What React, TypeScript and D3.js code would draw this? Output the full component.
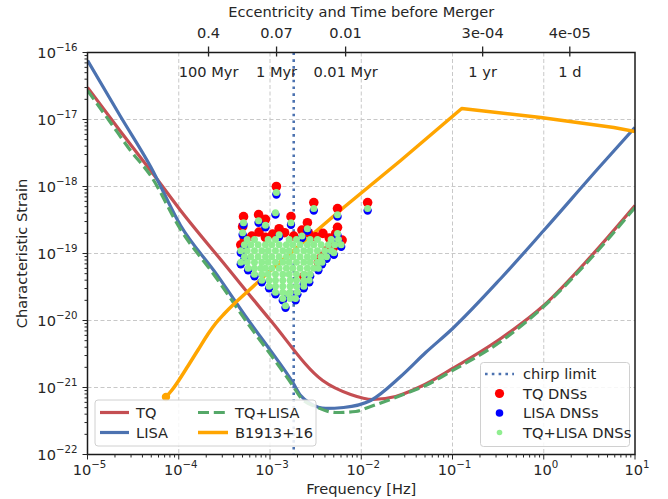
import React from "react";
import * as d3 from "d3";

// axes
const xMajor = [1e-5, 1e-4, 1e-3, 1e-2, 1e-1, 1, 10];
const xMajorExp = ["\u22125", "\u22124", "\u22123", "\u22122", "\u22121", "0", "1"];
const yMajor = [1e-22, 1e-21, 1e-20, 1e-19, 1e-18, 1e-17, 1e-16];
const yMajorExp = ["\u221222", "\u221221", "\u221220", "\u221219", "\u221218", "\u221217", "\u221216"];

// secondary (top) axis: eccentricity and time before merger
const topTickFreq = [2.12e-4, 1.18e-3, 6.74e-3, 0.214, 1.93];
const topTickEcc = ["0.4", "0.07", "0.01", "3e-04", "4e-05"];
const topTickTime = ["100 Myr", "1 Myr", "0.01 Myr", "1 yr", "1 d"];

const chirpLimit = 1.82e-3;

// sensitivity curves, [log10 f, log10 h_c]
const tqCurve = [
  [-5.0, -16.52], [-4.638, -17.179], [-4.309, -17.761], [-3.98, -18.358], [-3.487, -19.179],
  [-2.993, -20.0], [-2.423, -20.896], [-2.116, -21.104], [-1.875, -21.179], [-1.623, -21.134],
  [-1.349, -20.985], [-0.998, -20.716], [-0.471, -20.269], [0.0, -19.776], [0.515, -19.045], [1.0, -18.284],
];
const lisaCurve = [
  [-5.0, -16.119], [-4.638, -16.955], [-4.309, -17.701], [-3.98, -18.582], [-3.596, -19.29],
  [-3.235, -20.0], [-2.993, -20.45], [-2.752, -20.92], [-2.664, -21.12], [-2.555, -21.24],
  [-2.39, -21.313], [-2.193, -21.299], [-1.897, -21.194], [-1.568, -20.836], [-1.294, -20.478],
  [-0.998, -20.119], [-0.471, -19.373], [0.0, -18.657], [0.625, -17.687], [1.0, -17.119],
];
const tqLisaCurve = [
  [-5.0, -16.567], [-4.748, -17.045], [-4.529, -17.463], [-4.309, -17.836], [-3.98, -18.642],
  [-3.596, -19.35], [-3.235, -20.06], [-2.993, -20.51], [-2.752, -20.97], [-2.664, -21.15], [-2.478, -21.3],
  [-2.281, -21.373], [-2.061, -21.358], [-1.897, -21.284], [-1.568, -21.119], [-1.294, -20.97],
  [-0.998, -20.746], [-0.471, -20.313], [0.0, -19.791], [0.515, -19.075], [1.0, -18.313],
];
// B1913+16 track: curved early part, then straight segments up to the kink
const b1913Early = [
  [-4.14, -21.142], [-4.074, -21.037], [-3.997, -20.888], [-3.899, -20.679], [-3.789, -20.44],
  [-3.679, -20.201], [-3.592, -20.037], [-3.504, -19.903], [-3.395, -19.754], [-3.263, -19.59],
  [-3.0, -19.261], [-2.671, -18.873],
];
const b1913Late = [
  [-2.671, -18.873], [-2.193, -18.313], [-1.568, -17.612], [-0.899, -16.836], [-0.033, -16.97],
  [0.768, -17.119], [1.0, -17.179],
];

// DNS population, [log10 h, log10 f list] rows for the dense TQ+LISA cloud
const tqLisaDnsRows: [number, number[]][] = [
  [-18.79, [-3.25, -3.17, -3.02, -2.94, -2.79, -2.71, -2.56, -2.48, -2.33, -2.25]],
  [-18.87, [-3.28, -3.21, -3.13, -3.05, -2.98, -2.9, -2.82, -2.75, -2.67, -2.59, -2.52, -2.44, -2.36, -2.29, -2.22]],
  [-18.96, [-3.32, -3.25, -3.17, -3.09, -3.02, -2.94, -2.86, -2.79, -2.71, -2.63, -2.56, -2.48, -2.4, -2.33]],
  [-19.05, [-3.28, -3.21, -3.13, -3.05, -2.98, -2.9, -2.82, -2.75, -2.67, -2.59, -2.52, -2.44, -2.38]],
  [-19.13, [-3.32, -3.25, -3.17, -3.09, -3.02, -2.94, -2.86, -2.79, -2.71, -2.63, -2.56, -2.48, -2.43]],
  [-19.22, [-3.24, -3.17, -3.1, -3.05, -2.98, -2.9, -2.82, -2.75, -2.67, -2.59, -2.52, -2.47]],
  [-19.31, [-3.17, -3.09, -3.02, -2.94, -2.86, -2.79, -2.71, -2.63, -2.56]],
  [-19.4, [-3.09, -3.01, -2.94, -2.86, -2.78, -2.71, -2.63, -2.57]],
  [-19.49, [-3.01, -2.94, -2.86, -2.78, -2.71, -2.63]],
  [-19.58, [-2.94, -2.86, -2.78, -2.7]],
  [-19.67, [-2.86, -2.78, -2.72]],
];
// scattered DNSs, [log10 f, log10 h]
const tqLisaDnsOut = [
  [-2.93, -18.09], [-2.94, -18.39], [-3.29, -18.54], [-3.3, -18.69], [-3.125, -18.51], [-3.05, -18.58],
  [-2.77, -18.54], [-2.52, -18.33], [-2.26, -18.42], [-2.26, -18.7], [-2.3, -18.99], [-2.59, -18.63],
  [-1.93, -18.33], [-2.83, -19.78], [-2.8, -19.6], [-2.63, -19.43], [-2.9, -18.72], [-2.65, -18.74],
];
const tqDns = [
  [-2.93, -18.0], [-3.29, -18.45], [-3.3, -18.6], [-3.125, -18.42], [-3.05, -18.49],
  [-2.77, -18.45], [-2.52, -18.24], [-2.26, -18.33], [-2.26, -18.61], [-2.3, -18.9], [-2.59, -18.54],
  [-1.93, -18.24], [-2.63, -19.34], [-2.9, -18.63], [-2.65, -18.65],
  [-3.2, -18.74], [-3.12, -18.68], [-3.05, -18.76], [-2.97, -18.71], [-2.84, -18.69],
  [-2.74, -18.74], [-2.58, -18.69], [-2.5, -18.75], [-2.42, -18.7], [-2.35, -18.77], [-2.28, -18.7],
  [-3.32, -18.87], [-3.28, -18.78], [-2.21, -18.8], [-2.38, -18.96], [-2.43, -19.04], [-2.47, -19.13],
];
const lisaDns = [
  [-2.93, -18.12], [-2.94, -18.42], [-3.29, -18.57], [-3.3, -18.72], [-3.125, -18.54], [-3.05, -18.61],
  [-2.77, -18.57], [-2.52, -18.36], [-2.26, -18.45], [-2.26, -18.73], [-2.3, -19.02], [-2.59, -18.66],
  [-1.93, -18.36], [-2.83, -19.81], [-2.8, -19.63], [-2.63, -19.46], [-2.9, -18.75], [-2.65, -18.77],
  [-3.32, -18.99], [-3.32, -19.16], [-3.28, -19.08], [-3.28, -18.9], [-3.24, -19.25], [-3.17, -19.34],
  [-3.09, -19.43], [-3.01, -19.52], [-2.94, -19.61], [-2.86, -19.7], [-2.25, -18.82], [-2.22, -18.9],
  [-2.33, -18.99], [-2.38, -19.08], [-2.43, -19.16], [-2.47, -19.25], [-2.56, -19.34], [-2.57, -19.43],
  [-2.63, -19.52], [-2.7, -19.61], [-2.72, -19.7],
];

const C = {
  tq: "#c44e52",
  lisa: "#4c72b0",
  both: "#55a868",
  b1913: "#ffa500",
  grid: "#c8c8c8",
  ink: "#262626",
};
const FONT = "DejaVu Sans, sans-serif";
const FS = 14.6;

const L = 87.5, R = 635, T = 52.5, B = 454.5;

const Pow10 = ({ exp, x, y, anchor }: { exp: string; x: number; y: number; anchor: string }) => (
  <text x={x} y={y} textAnchor={anchor} fontSize={FS} fill={C.ink}>
    10<tspan dy={-6.5} fontSize={FS * 0.7}>{exp}</tspan>
  </text>
);

export default function App() {
  const x = d3.scaleLog().domain([1e-5, 10]).range([L, R]);
  const y = d3.scaleLog().domain([1e-22, 1e-16]).range([B, T]);
  const smooth = d3
    .line<number[]>()
    .x((d) => x(10 ** d[0]))
    .y((d) => y(10 ** d[1]))
    .curve(d3.curveMonotoneX);
  const straight = d3
    .line<number[]>()
    .x((d) => x(10 ** d[0]))
    .y((d) => y(10 ** d[1]));

  const xMinor = x.ticks().filter((t) => !xMajor.some((m) => Math.abs(m - t) / m < 1e-6));
  const yMinor = y.ticks().filter((t) => !yMajor.some((m) => Math.abs(m - t) / m < 1e-6));

  const cloud = tqLisaDnsRows.flatMap(([lh, fs]) => fs.map((lf) => [lf, lh]));
  const green = cloud.concat(tqLisaDnsOut);
  const px = (d: number[]) => x(10 ** d[0]);
  const py = (d: number[]) => y(10 ** d[1]);

  return (
    <svg
      width={668}
      height={499}
      style={{ position: "absolute", left: 0, top: 0, background: "#fff" }}
      fontFamily={FONT}
    >
      <defs>
        <clipPath id="plot">
          <rect x={L} y={T} width={R - L} height={B - T} />
        </clipPath>
      </defs>

      {/* grid */}
      <g stroke={C.grid} strokeWidth={1} strokeDasharray="4,2.5">
        {xMajor.slice(1, -1).map((t) => (
          <line key={t} x1={x(t)} x2={x(t)} y1={T} y2={B} />
        ))}
        {yMajor.slice(1, -1).map((t) => (
          <line key={t} x1={L} x2={R} y1={y(t)} y2={y(t)} />
        ))}
      </g>

      <g clipPath="url(#plot)" fill="none" strokeLinejoin="round">
        {/* chirp limit */}
        <line
          x1={x(chirpLimit)}
          x2={x(chirpLimit)}
          y1={T}
          y2={B}
          stroke={C.lisa}
          strokeWidth={2.6}
          strokeDasharray="2.6,4.2"
        />
        <path d={smooth(tqCurve) || ""} stroke={C.tq} strokeWidth={3.2} />
        <path d={smooth(lisaCurve) || ""} stroke={C.lisa} strokeWidth={3.2} />
        <path d={smooth(tqLisaCurve) || ""} stroke={C.both} strokeWidth={3.2} strokeDasharray="11,4.8" />
        <path d={smooth(b1913Early) || ""} stroke={C.b1913} strokeWidth={3.5} />
        <path d={straight(b1913Late) || ""} stroke={C.b1913} strokeWidth={3.5} />
        <circle cx={px(b1913Early[0])} cy={py(b1913Early[0])} r={4.2} fill={C.b1913} />

        {/* DNSs */}
        {tqDns.map((d, i) => (
          <circle key={"r" + i} cx={px(d)} cy={py(d)} r={4.8} fill="#ff0000" />
        ))}
        {lisaDns.map((d, i) => (
          <circle key={"b" + i} cx={px(d)} cy={py(d)} r={4.2} fill="#0000ff" />
        ))}
        {green.map((d, i) => (
          <circle key={"g" + i} cx={px(d)} cy={py(d)} r={3.5} fill="#90ee90" />
        ))}
      </g>

      {/* spines */}
      <rect x={L} y={T} width={R - L} height={B - T} fill="none" stroke="#1a1a1a" strokeWidth={1.5} />

      {/* ticks */}
      <g stroke={C.ink} strokeWidth={1}>
        {xMajor.map((t) => (
          <line key={t} x1={x(t)} x2={x(t)} y1={B} y2={B + 5} />
        ))}
        {xMinor.map((t) => (
          <line key={t} x1={x(t)} x2={x(t)} y1={B} y2={B + 3} />
        ))}
        {yMajor.map((t) => (
          <line key={t} x1={L} x2={L - 5} y1={y(t)} y2={y(t)} />
        ))}
        {yMinor.map((t) => (
          <line key={t} x1={L} x2={L - 3} y1={y(t)} y2={y(t)} />
        ))}
        {topTickFreq.map((t) => (
          <line key={t} x1={x(t)} x2={x(t)} y1={T - 6} y2={T + 4} strokeWidth={1.3} />
        ))}
      </g>
      {xMajor.map((t, i) => (
        <Pow10 key={t} exp={xMajorExp[i]} x={x(t) + 2} y={B + 20} anchor="middle" />
      ))}
      {yMajor.map((t, i) => (
        <Pow10 key={t} exp={yMajorExp[i]} x={L - 10} y={y(t) + 5} anchor="end" />
      ))}
      <g fontSize={FS} fill={C.ink} textAnchor="middle">
        {topTickFreq.map((t, i) => (
          <text key={t} x={x(t)} y={38}>
            {topTickEcc[i]}
          </text>
        ))}
        {topTickFreq.map((t, i) => (
          <text key={"t" + t} x={x(t)} y={77}>
            {topTickTime[i]}
          </text>
        ))}
        <text x={(L + R) / 2} y={17}>
          Eccentricity and Time before Merger
        </text>
        <text x={(L + R) / 2} y={494}>
          Frequency [Hz]
        </text>
        <text transform={`translate(27,${(T + B) / 2}) rotate(-90)`}>Characteristic Strain</text>
      </g>

      {/* legend: curves */}
      <g fontSize={FS} fill={C.ink}>
        <rect x={95} y={400} width={221} height={46} rx={3} fill="#fff" fillOpacity={0.85} stroke="#d0d0d0" />
        <line x1={100} x2={129} y1={412.5} y2={412.5} stroke={C.tq} strokeWidth={3.2} />
        <text x={136} y={417.5}>TQ</text>
        <line x1={100} x2={129} y1={432.5} y2={432.5} stroke={C.lisa} strokeWidth={3.2} />
        <text x={136} y={437.5}>LISA</text>
        <line x1={198} x2={228} y1={412.5} y2={412.5} stroke={C.both} strokeWidth={3.2} strokeDasharray="11,4.8" />
        <text x={235} y={417.5}>TQ+LISA</text>
        <line x1={198} x2={228} y1={432.5} y2={432.5} stroke={C.b1913} strokeWidth={3.5} />
        <text x={235} y={437.5}>B1913+16</text>
      </g>

      {/* legend: DNSs */}
      <g fontSize={FS} fill={C.ink}>
        <rect x={480.5} y={362.5} width={149} height={84} rx={3} fill="#fff" fillOpacity={0.85} stroke="#d0d0d0" />
        <line x1={485} x2={514} y1={374} y2={374} stroke={C.lisa} strokeWidth={2.6} strokeDasharray="2.6,4.2" />
        <text x={523} y={379}>chirp limit</text>
        <circle cx={499.5} cy={393.5} r={4.6} fill="#ff0000" />
        <text x={523} y={398.5}>TQ DNSs</text>
        <circle cx={499.5} cy={413} r={3.8} fill="#0000ff" />
        <text x={523} y={418}>LISA DNSs</text>
        <circle cx={499.5} cy={432.5} r={2.8} fill="#90ee90" />
        <text x={523} y={437.5}>TQ+LISA DNSs</text>
      </g>
    </svg>
  );
}
